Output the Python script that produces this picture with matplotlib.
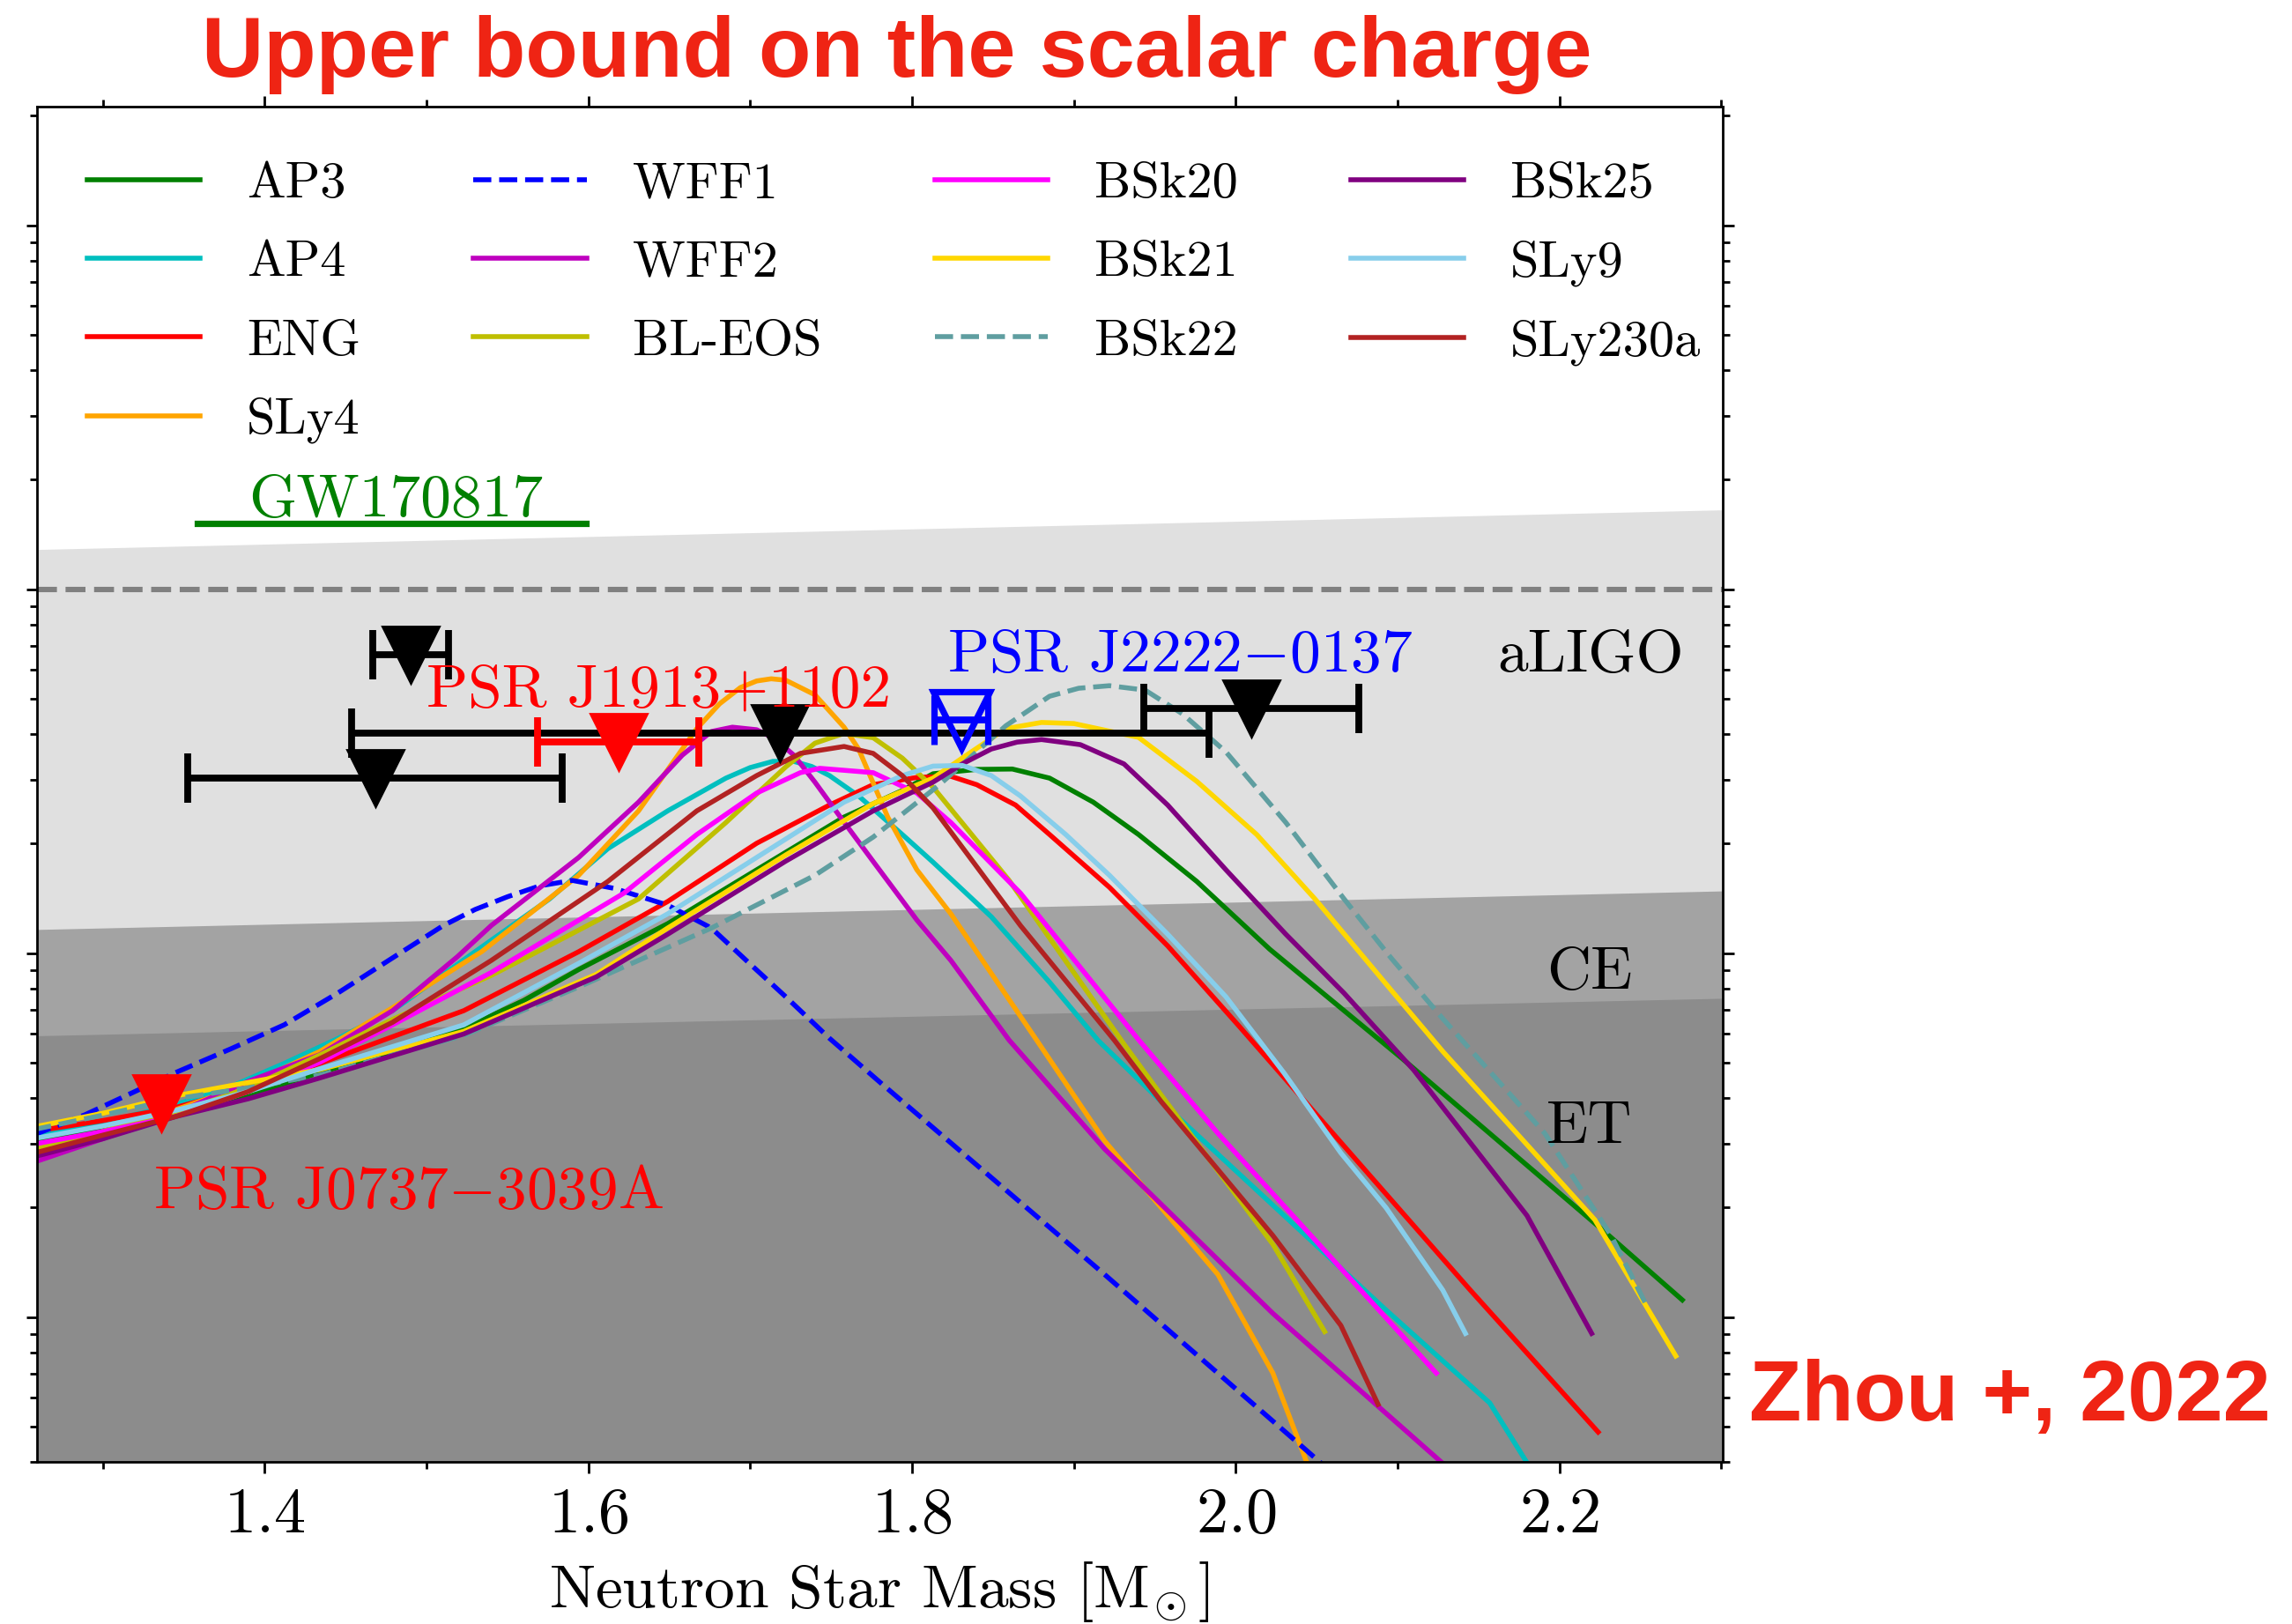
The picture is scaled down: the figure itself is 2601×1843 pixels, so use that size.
import numpy as np
import matplotlib
matplotlib.use("Agg")
import matplotlib.pyplot as plt
from matplotlib.ticker import MultipleLocator, LogLocator, NullFormatter

plt.rcParams.update({
    "font.family": "serif",
    "font.serif": ["cmr10"],
    "mathtext.fontset": "cm",
    "axes.unicode_minus": False,
    "axes.formatter.use_mathtext": True,
})

# ---------------------------------------------------------------------------
# EOS curves: neutron star mass [Msun] and log10 of the scalar-charge bound
# ---------------------------------------------------------------------------
ap3_m = [1.257, 1.30, 1.345, 1.39, 1.434, 1.48, 1.523, 1.56, 1.594, 1.649, 1.704, 1.758, 1.794,
         1.813, 1.840, 1.862, 1.885, 1.912, 1.940, 1.976, 2.021, 2.067, 2.103, 2.225, 2.276]
ap3_lg = [-2.515, -2.48, -2.44, -2.39, -2.328, -2.27, -2.207, -2.13, -2.045, -1.919, -1.771, -1.626,
          -1.553, -1.507, -1.495, -1.494, -1.519, -1.585, -1.674, -1.803, -1.989, -2.158, -2.29,
          -2.754, -2.953]

ap4_m = [1.257, 1.30, 1.345, 1.38, 1.412, 1.445, 1.479, 1.530, 1.576, 1.612, 1.649, 1.685, 1.700,
         1.714, 1.727, 1.738, 1.749, 1.767, 1.794, 1.813, 1.849, 1.885, 1.915, 1.954, 2.093, 2.157,
         2.180]
ap4_lg = [-2.505, -2.465, -2.416, -2.365, -2.303, -2.235, -2.158, -1.996, -1.851, -1.713, -1.609,
          -1.519, -1.49, -1.473, -1.473, -1.487, -1.512, -1.568, -1.674, -1.75, -1.90, -2.08, -2.24,
          -2.408, -2.981, -3.236, -3.40]

eng_m = [1.257, 1.30, 1.345, 1.39, 1.434, 1.523, 1.594, 1.649, 1.704, 1.749, 1.776, 1.803, 1.824,
         1.840, 1.864, 1.885, 1.922, 1.958, 2.002, 2.065, 2.145, 2.224]
eng_lg = [-2.49, -2.46, -2.424, -2.37, -2.303, -2.158, -1.996, -1.858, -1.698, -1.593, -1.537,
          -1.517, -1.514, -1.537, -1.593, -1.674, -1.819, -1.980, -2.20, -2.52, -2.926, -3.316]

sly4_m = [1.257, 1.30, 1.345, 1.39, 1.434, 1.479, 1.534, 1.594, 1.631, 1.667, 1.681, 1.694, 1.704,
          1.713, 1.722, 1.740, 1.758, 1.767, 1.785, 1.803, 1.824, 1.877, 1.919, 1.989, 2.023, 2.044]
sly4_lg = [-2.545, -2.49, -2.43, -2.36, -2.27, -2.15, -1.996, -1.786, -1.609, -1.383, -1.315, -1.270,
           -1.252, -1.246, -1.250, -1.290, -1.379, -1.439, -1.626, -1.771, -1.892, -2.239, -2.516,
           -2.883, -3.154, -3.40]

wff1_m = [1.257, 1.289, 1.345, 1.379, 1.412, 1.445, 1.479, 1.510, 1.530, 1.550, 1.570, 1.590,
          1.616, 1.649, 1.676, 1.700, 1.722, 1.749, 1.780, 1.919, 2.055]
wff1_lg = [-2.50, -2.444, -2.328, -2.263, -2.197, -2.11, -2.013, -1.925, -1.880, -1.845, -1.815,
           -1.800, -1.822, -1.868, -1.931, -2.03, -2.12, -2.234, -2.354, -2.883, -3.41]

wff2_m = [1.257, 1.30, 1.345, 1.390, 1.434, 1.479, 1.519, 1.540, 1.594, 1.631, 1.658, 1.676, 1.689,
          1.704, 1.715, 1.727, 1.740, 1.758, 1.776, 1.803, 1.824, 1.860, 1.919, 2.023, 2.13]
wff2_lg = [-2.575, -2.51, -2.44, -2.352, -2.279, -2.158, -2.01, -1.924, -1.737, -1.585, -1.456,
           -1.391, -1.379, -1.386, -1.41, -1.456, -1.53, -1.64, -1.748, -1.909, -2.020, -2.239,
           -2.538, -2.99, -3.41]

bleos_m = [1.257, 1.30, 1.345, 1.390, 1.434, 1.479, 1.540, 1.568, 1.631, 1.685, 1.722, 1.740, 1.758,
           1.776, 1.794, 1.813, 1.860, 1.931, 1.954, 2.023, 2.055]
bleos_lg = [-2.54, -2.49, -2.44, -2.37, -2.28, -2.182, -2.061, -1.997, -1.851, -1.641, -1.488,
            -1.423, -1.396, -1.408, -1.464, -1.544, -1.80, -2.25, -2.39, -2.80, -3.04]

bsk20_m = [1.257, 1.30, 1.345, 1.39, 1.434, 1.479, 1.540, 1.622, 1.667, 1.704, 1.731, 1.743,
           1.776, 1.803, 1.824, 1.867, 1.940, 1.989, 2.124]
bsk20_lg = [-2.525, -2.49, -2.449, -2.38, -2.30, -2.197, -2.053, -1.835, -1.674, -1.560, -1.504,
            -1.492, -1.504, -1.560, -1.641, -1.835, -2.238, -2.495, -3.154]

bsk21_m = [1.257, 1.30, 1.345, 1.39, 1.434, 1.523, 1.605, 1.649, 1.722, 1.776, 1.813, 1.831,
           1.858, 1.880, 1.900, 1.940, 1.976, 2.013, 2.049, 2.096, 2.128, 2.222, 2.272]
bsk21_lg = [-2.478, -2.44, -2.392, -2.355, -2.32, -2.215, -2.058, -1.931, -1.730, -1.589, -1.519,
            -1.464, -1.383, -1.366, -1.369, -1.407, -1.528, -1.674, -1.851, -2.101, -2.27, -2.733,
            -3.107]

bsk22_m = [1.257, 1.30, 1.345, 1.39, 1.434, 1.523, 1.594, 1.676, 1.740, 1.776, 1.817, 1.858, 1.885,
           1.903, 1.922, 1.944, 1.967, 1.994, 2.031, 2.067, 2.096, 2.128, 2.191, 2.232, 2.253]
bsk22_lg = [-2.485, -2.445, -2.40, -2.37, -2.335, -2.226, -2.093, -1.931, -1.786, -1.681, -1.537,
            -1.375, -1.294, -1.272, -1.265, -1.277, -1.342, -1.447, -1.641, -1.851, -2.013, -2.18,
            -2.495, -2.776, -2.960]

bsk25_m = [1.257, 1.30, 1.345, 1.39, 1.434, 1.523, 1.605, 1.649, 1.722, 1.776, 1.813, 1.831, 1.849,
           1.865, 1.880, 1.904, 1.931, 1.958, 1.994, 2.031, 2.067, 2.110, 2.180, 2.220]
bsk25_lg = [-2.56, -2.51, -2.449, -2.40, -2.343, -2.222, -2.065, -1.948, -1.747, -1.609, -1.53,
            -1.480, -1.439, -1.42, -1.413, -1.427, -1.480, -1.593, -1.771, -1.948, -2.110, -2.321,
            -2.721, -3.045]

sly9_m = [1.257, 1.30, 1.345, 1.39, 1.434, 1.523, 1.594, 1.649, 1.704, 1.758, 1.794, 1.813, 1.831,
          1.849, 1.867, 1.895, 1.922, 1.958, 1.994, 2.030, 2.065, 2.093, 2.128, 2.142]
sly9_lg = [-2.51, -2.475, -2.432, -2.38, -2.318, -2.197, -2.028, -1.892, -1.737, -1.585, -1.512,
           -1.486, -1.484, -1.512, -1.568, -1.674, -1.786, -1.948, -2.12, -2.33, -2.549, -2.70,
           -2.926, -3.045]

sly230a_m = [1.257, 1.30, 1.345, 1.39, 1.434, 1.479, 1.540, 1.612, 1.667, 1.704, 1.731, 1.758,
             1.776, 1.794, 1.813, 1.867, 1.925, 1.954, 2.023, 2.065, 2.088]
sly230a_lg = [-2.55, -2.50, -2.449, -2.38, -2.29, -2.19, -2.020, -1.803, -1.609, -1.512, -1.451,
              -1.432, -1.451, -1.512, -1.601, -1.924, -2.239, -2.408, -2.776, -3.023, -3.24]

# detector sensitivity edges (log10 of the bound at the two ends of the mass range)
det_m = [1.259, 2.301]
aligo_lg = [-0.892, -0.783]
ce_lg = [-1.935, -1.829]
et_lg = [-2.227, -2.124]

# pulsar bounds: mass, log10 bound, mass uncertainty
psr_black_m = [1.490, 1.7185, 1.4682, 2.0095]
psr_black_lg = [-1.180, -1.396, -1.5186, -1.328]
psr_black_err = [0.0235, 0.265, 0.1156, 0.0665]

j1913_m, j1913_lg, j1913_err = 1.6186, -1.419, 0.0498
j2222_m, j2222_lg, j2222_err = 1.8304, -1.360, 0.0166
j0737_m, j0737_lg = 1.336, -2.412

# GW170817 bound over its component-mass range
gw_m = [1.3586, 1.5985]
gw_lg = -0.820

ref_level = 0.1

eos = [
    ("AP3", ap3_m, ap3_lg, "green", "-"),
    ("AP4", ap4_m, ap4_lg, "c", "-"),
    ("ENG", eng_m, eng_lg, "red", "-"),
    ("SLy4", sly4_m, sly4_lg, "orange", "-"),
    ("WFF1", wff1_m, wff1_lg, "blue", "--"),
    ("WFF2", wff2_m, wff2_lg, "m", "-"),
    ("BL-EOS", bleos_m, bleos_lg, "y", "-"),
    ("BSk20", bsk20_m, bsk20_lg, "magenta", "-"),
    ("BSk21", bsk21_m, bsk21_lg, "gold", "-"),
    ("BSk22", bsk22_m, bsk22_lg, "cadetblue", "--"),
    ("BSk25", bsk25_m, bsk25_lg, "purple", "-"),
    ("SLy9", sly9_m, sly9_lg, "skyblue", "-"),
    ("SLy230a", sly230a_m, sly230a_lg, "firebrick", "-"),
]

fig = plt.figure(figsize=(13.005, 9.215), dpi=200)
ax = fig.add_axes([41.5 / 2601, 1 - 1659 / 1843, (1955 - 41.5) / 2601, (1659 - 121) / 1843])

ymin, ymax = 4.0e-4, 2.12
floor = 1e-6

# detector regions, shaded from light to dark
for lg, col in [(aligo_lg, "#e0e0e0"), (ce_lg, "#a3a3a3"), (et_lg, "#8c8c8c")]:
    ax.fill_between(det_m, 10 ** np.array(lg), floor, color=col, lw=0, zorder=0)

ax.axhline(ref_level, color="gray", ls="--", lw=2.2, zorder=1)

for name, m, lg, col, ls in eos:
    ax.plot(m, 10 ** np.array(lg), color=col, ls=ls, lw=2.0, label=name, zorder=2)

ebkw = dict(fmt="v", ms=23, capsize=10, elinewidth=2.8, capthick=2.8, zorder=4)
ax.errorbar(psr_black_m, 10 ** np.array(psr_black_lg), xerr=psr_black_err, color="k", **ebkw)
ax.errorbar([j1913_m], [10 ** j1913_lg], xerr=[j1913_err], color="red", **ebkw)
ax.errorbar([j2222_m], [10 ** j2222_lg], xerr=[j2222_err], color="blue", mfc="none",
            mew=2.6, **ebkw)
ax.plot([j0737_m], [10 ** j0737_lg], "v", ms=23, color="red", zorder=4)

ax.plot(gw_m, [10 ** gw_lg] * 2, color="green", lw=2.6, zorder=3)

tkw = dict(fontsize=25, ha="left", va="baseline", zorder=5)
ax.text(1.3902, 10 ** -0.7995, "GW170817", color="green", **tkw)
ax.text(1.500, 10 ** -1.3225, "PSR J1913+1102", color="red", **tkw)
ax.text(1.822, 10 ** -1.2256, r"PSR J2222$-$0137", color="blue", **tkw)
ax.text(1.3314, 10 ** -2.6998, r"PSR J0737$-$3039A", color="red", **tkw)
ax.text(2.1615, 10 ** -1.2256, "aLIGO", color="k", **tkw)
ax.text(2.192, 10 ** -2.0966, "CE", color="k", **tkw)
ax.text(2.192, 10 ** -2.5218, "ET", color="k", **tkw)

ax.set_yscale("log")
ax.set_xlim(1.259, 2.301)
ax.set_ylim(ymin, ymax)
ax.xaxis.set_major_locator(MultipleLocator(0.2))
ax.xaxis.set_minor_locator(MultipleLocator(0.1))
ax.yaxis.set_major_locator(LogLocator(base=10))
ax.yaxis.set_minor_locator(LogLocator(base=10, subs=np.arange(2, 10)))
ax.yaxis.set_major_formatter(NullFormatter())
ax.yaxis.set_minor_formatter(NullFormatter())
ax.tick_params(which="both", direction="out", top=True, right=True, width=1.0)
ax.tick_params(which="major", length=4.5, labelsize=26, pad=6)
ax.tick_params(which="minor", length=3)
for s in ax.spines.values():
    s.set_linewidth(1.0)

ax.set_xlabel(r"Neutron Star Mass [M$_{\!\odot}$]", fontsize=25, labelpad=6)

ax.legend(loc="upper left", bbox_to_anchor=(0.0026, 0.9935), ncol=4, frameon=False,
          fontsize=21, handlelength=2.2, handletextpad=0.9, columnspacing=2.2,
          labelspacing=0.64)

red = "#ef2414"
fig.text(0.3914, 1 - 87 / 1843, "Upper bound on the scalar charge", ha="center", va="baseline",
         fontsize=35, fontweight="bold", color=red, family="Liberation Sans")
fig.text(1985 / 2601, 1 - 1612 / 1843, "Zhou +, 2022", ha="left", va="baseline",
         fontsize=35, fontweight="bold", color=red, family="Liberation Sans")

fig.savefig("out.png", dpi=200)
